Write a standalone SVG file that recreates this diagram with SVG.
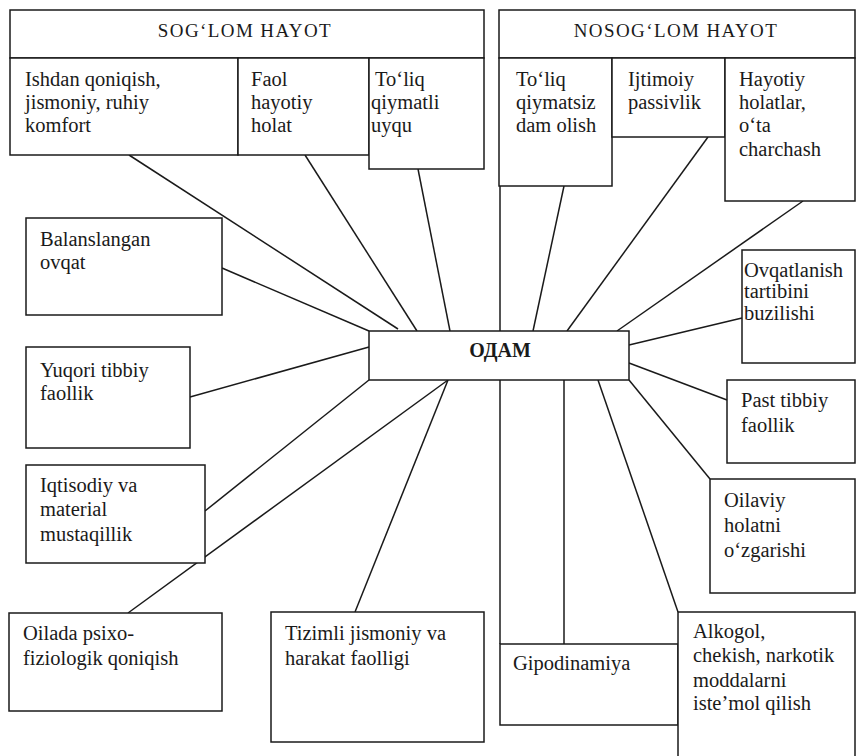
<svg xmlns="http://www.w3.org/2000/svg" width="856" height="756" viewBox="0 0 856 756" font-family="Liberation Serif, Times New Roman, Times, serif">
<style>
rect{fill:#fff;stroke:#1a1a1a;stroke-width:1.5}
line{stroke:#1a1a1a;stroke-width:1.5}
text{font-size:20.5px;fill:#1a1a1a}
.h{font-size:19px;letter-spacing:1.4px}
.b{font-weight:bold;font-size:20px}
</style>
<rect x="0" y="0" width="856" height="756" style="fill:#fff;stroke:none"/>
<g id="connectors">
<line x1="129" y1="155" x2="398" y2="329"/>
<line x1="305" y1="155" x2="417" y2="331"/>
<line x1="418" y1="169" x2="450" y2="331"/>
<line x1="564" y1="186" x2="533" y2="331"/>
<line x1="708" y1="137" x2="567" y2="331"/>
<line x1="803" y1="201" x2="617" y2="331"/>
<line x1="222" y1="268" x2="369" y2="331"/>
<line x1="190" y1="397" x2="369" y2="347"/>
<line x1="205" y1="511" x2="369" y2="380"/>
<line x1="128" y1="613" x2="448" y2="380"/>
<line x1="355" y1="612" x2="448" y2="380"/>
<line x1="629" y1="345" x2="742" y2="318"/>
<line x1="629" y1="363" x2="727" y2="400"/>
<line x1="629" y1="380" x2="710" y2="479"/>
<line x1="598" y1="380" x2="678" y2="612"/>
<line x1="564" y1="380" x2="564" y2="644"/>
<line x1="500" y1="186" x2="500" y2="644"/>
</g>
<g id="sog-header"><rect x="10" y="10" width="474" height="48"/><text class="h" x="245" y="37" text-anchor="middle">SOG‘LOM HAYOT</text></g>
<g id="ishdan"><rect x="10" y="58" width="228" height="97"/><text x="25" y="86">Ishdan qoniqish,</text><text x="25" y="109">jismoniy, ruhiy</text><text x="25" y="132">komfort</text></g>
<g id="faol"><rect x="238" y="58" width="131" height="97"/><text x="251" y="86">Faol</text><text x="251" y="109">hayotiy</text><text x="251" y="132">holat</text></g>
<g id="uyqu"><rect x="369" y="58" width="115" height="111"/><text x="375" y="86">To‘liq</text><text x="371" y="109">qiymatli</text><text x="371" y="132">uyqu</text></g>
<g id="nosog-header"><rect x="499" y="10" width="356" height="48"/><text class="h" x="676" y="37" text-anchor="middle">NOSOG‘LOM HAYOT</text></g>
<g id="dam"><rect x="499" y="58" width="113" height="128"/><text x="516" y="86">To‘liq</text><text x="516" y="109">qiymatsiz</text><text x="516" y="132">dam olish</text></g>
<g id="passiv"><rect x="612" y="58" width="113" height="79"/><text x="628" y="86">Ijtimoiy</text><text x="628" y="109">passivlik</text></g>
<g id="hayotiy"><rect x="725" y="58" width="130" height="143"/><text x="739" y="86">Hayotiy</text><text x="739" y="109">holatlar,</text><text x="739" y="132">o‘ta</text><text x="739" y="156">charchash</text></g>
<g id="balans"><rect x="26" y="218" width="196" height="97"/><text x="40" y="246">Balanslangan</text><text x="40" y="269">ovqat</text></g>
<g id="yuqori"><rect x="26" y="347" width="164" height="101"/><text x="40" y="377">Yuqori tibbiy</text><text x="40" y="400">faollik</text></g>
<g id="iqtisod"><rect x="26" y="465" width="179" height="98"/><text x="40" y="492">Iqtisodiy va</text><text x="40" y="516">material</text><text x="40" y="541">mustaqillik</text></g>
<g id="oilada"><rect x="9" y="613" width="213" height="98"/><text x="23" y="640">Oilada psixo-</text><text x="23" y="665">fiziologik qoniqish</text></g>
<g id="tizimli"><rect x="271" y="612" width="213" height="130"/><text x="285" y="640">Tizimli jismoniy va</text><text x="285" y="665">harakat faolligi</text></g>
<g id="odam"><rect x="369" y="331" width="260" height="49"/><text class="b" x="500" y="357" text-anchor="middle">ОДАМ</text></g>
<g id="ovqatlanish"><rect x="742" y="250" width="113" height="113"/><text x="744" y="277">Ovqatlanish</text><text x="744" y="298">tartibini</text><text x="744" y="320">buzilishi</text></g>
<g id="past"><rect x="727" y="380" width="128" height="83"/><text x="741" y="407">Past tibbiy</text><text x="741" y="432">faollik</text></g>
<g id="oilaviy"><rect x="710" y="479" width="145" height="114"/><text x="724" y="507">Oilaviy</text><text x="724" y="532">holatni</text><text x="724" y="557">o‘zgarishi</text></g>
<g id="gipo"><rect x="500" y="644" width="178" height="81"/><text x="513" y="670">Gipodinamiya</text></g>
<g id="alkogol"><rect x="678" y="612" width="177" height="150"/><text x="693" y="638">Alkogol,</text><text x="693" y="662">chekish, narkotik</text><text x="693" y="687">moddalarni</text><text x="693" y="710">iste’mol qilish</text></g>
</svg>
